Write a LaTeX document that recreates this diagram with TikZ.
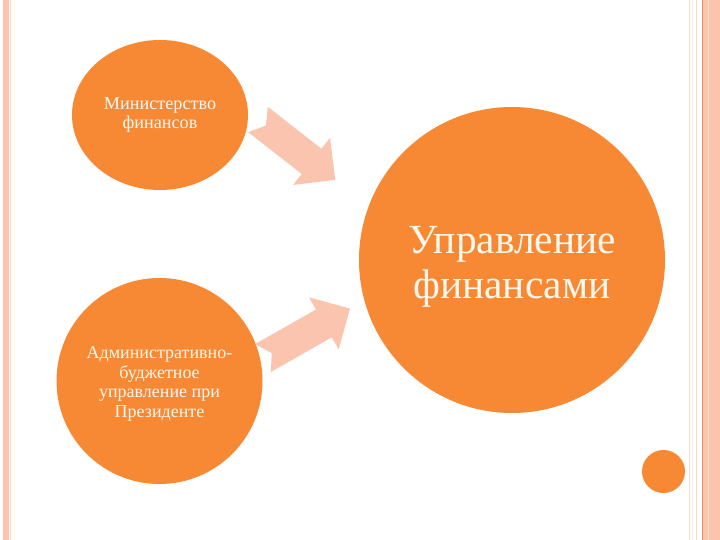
\documentclass[tikz,border=0pt]{standalone}
\usepackage{fontspec}
\setmainfont{Liberation Serif}
\usetikzlibrary{shapes.geometric}

\definecolor{flow}{RGB}{247,136,52}
\definecolor{peach}{RGB}{251,196,174}
\definecolor{band}{RGB}{252,196,172}
\definecolor{bandline}{RGB}{236,140,100}
\definecolor{cream}{RGB}{255,248,238}

\begin{document}
\begin{tikzpicture}[x=1pt, y=-1pt,
    blob/.style={circle, fill=flow, draw=none, inner sep=0pt, text=cream, align=center},
    blobtext/.style={inner sep=0pt, text=cream, align=center},
    blockarrow/.style={fill=peach, draw=none},
    rule/.style={line width=0.8pt}]

  \useasboundingbox (0,0) rectangle (720,540);
  \fill[white] (0,0) rectangle (720,540);

  % page frame, left
  \fill[band]                   (2.7,0)  rectangle (9,540);
  \draw[rule, band!70]          (10.7,0) -- (10.7,540);
  \draw[rule, yellow!15]        (14,0)   -- (14,540);
  % page frame, right
  \draw[rule, band!60]          (689.3,0) -- (689.3,540);
  \draw[rule, band!30]          (692,0)   -- (692,540);
  \draw[rule, band!70]          (696.7,0) -- (696.7,540);
  \fill[band]                   (702.5,0) rectangle (720,540);
  \draw[line width=1pt, bandline] (702.3,0) -- (702.3,540);
  \draw[rule, band!50]          (708,0)   -- (708,540);

  \node[blob, ellipse, minimum width=176pt, minimum height=150pt,
        font=\fontsize{18.2}{18.5}\selectfont] (minfin) at (160,115)
        {Министерство\\финансов};
  \node[blob, minimum size=206pt, font=\fontsize{18}{19.7}\selectfont]
        (abu) at (159.5,381)
        {};
  \node[blobtext, font=\fontsize{18}{19.7}\selectfont]
        (abutext) at ([yshift=-3pt]abu.center)
        {Административно-\\буджетное\\управление при\\Президенте};
  \node[blob, minimum size=306pt] (upr) at (512,260) {};
  \node[blobtext, font=\fontsize{41.4}{45}\selectfont]
        (uprtext) at ([yshift=-7pt]upr.center) {Управление\\финансами};
  \node[blob, minimum size=43pt] (dot) at (663.5,471.5) {};

  % arrows towards the big circle
  \begin{scope}[shift={(258,119.5)}, rotate=-38]
    \fill[blockarrow] (0,-16) -- (68,-16) -- (68,-30) -- (98,0)
      -- (68,30) -- (68,16) -- (0,16) -- (10,0) -- cycle;
  \end{scope}
  \begin{scope}[shift={(263,358)}, rotate=29.6]
    \fill[blockarrow] (0,-16) -- (70,-16) -- (70,-30) -- (100,0)
      -- (70,30) -- (70,16) -- (0,16) -- (10,0) -- cycle;
  \end{scope}

\end{tikzpicture}
\end{document}
